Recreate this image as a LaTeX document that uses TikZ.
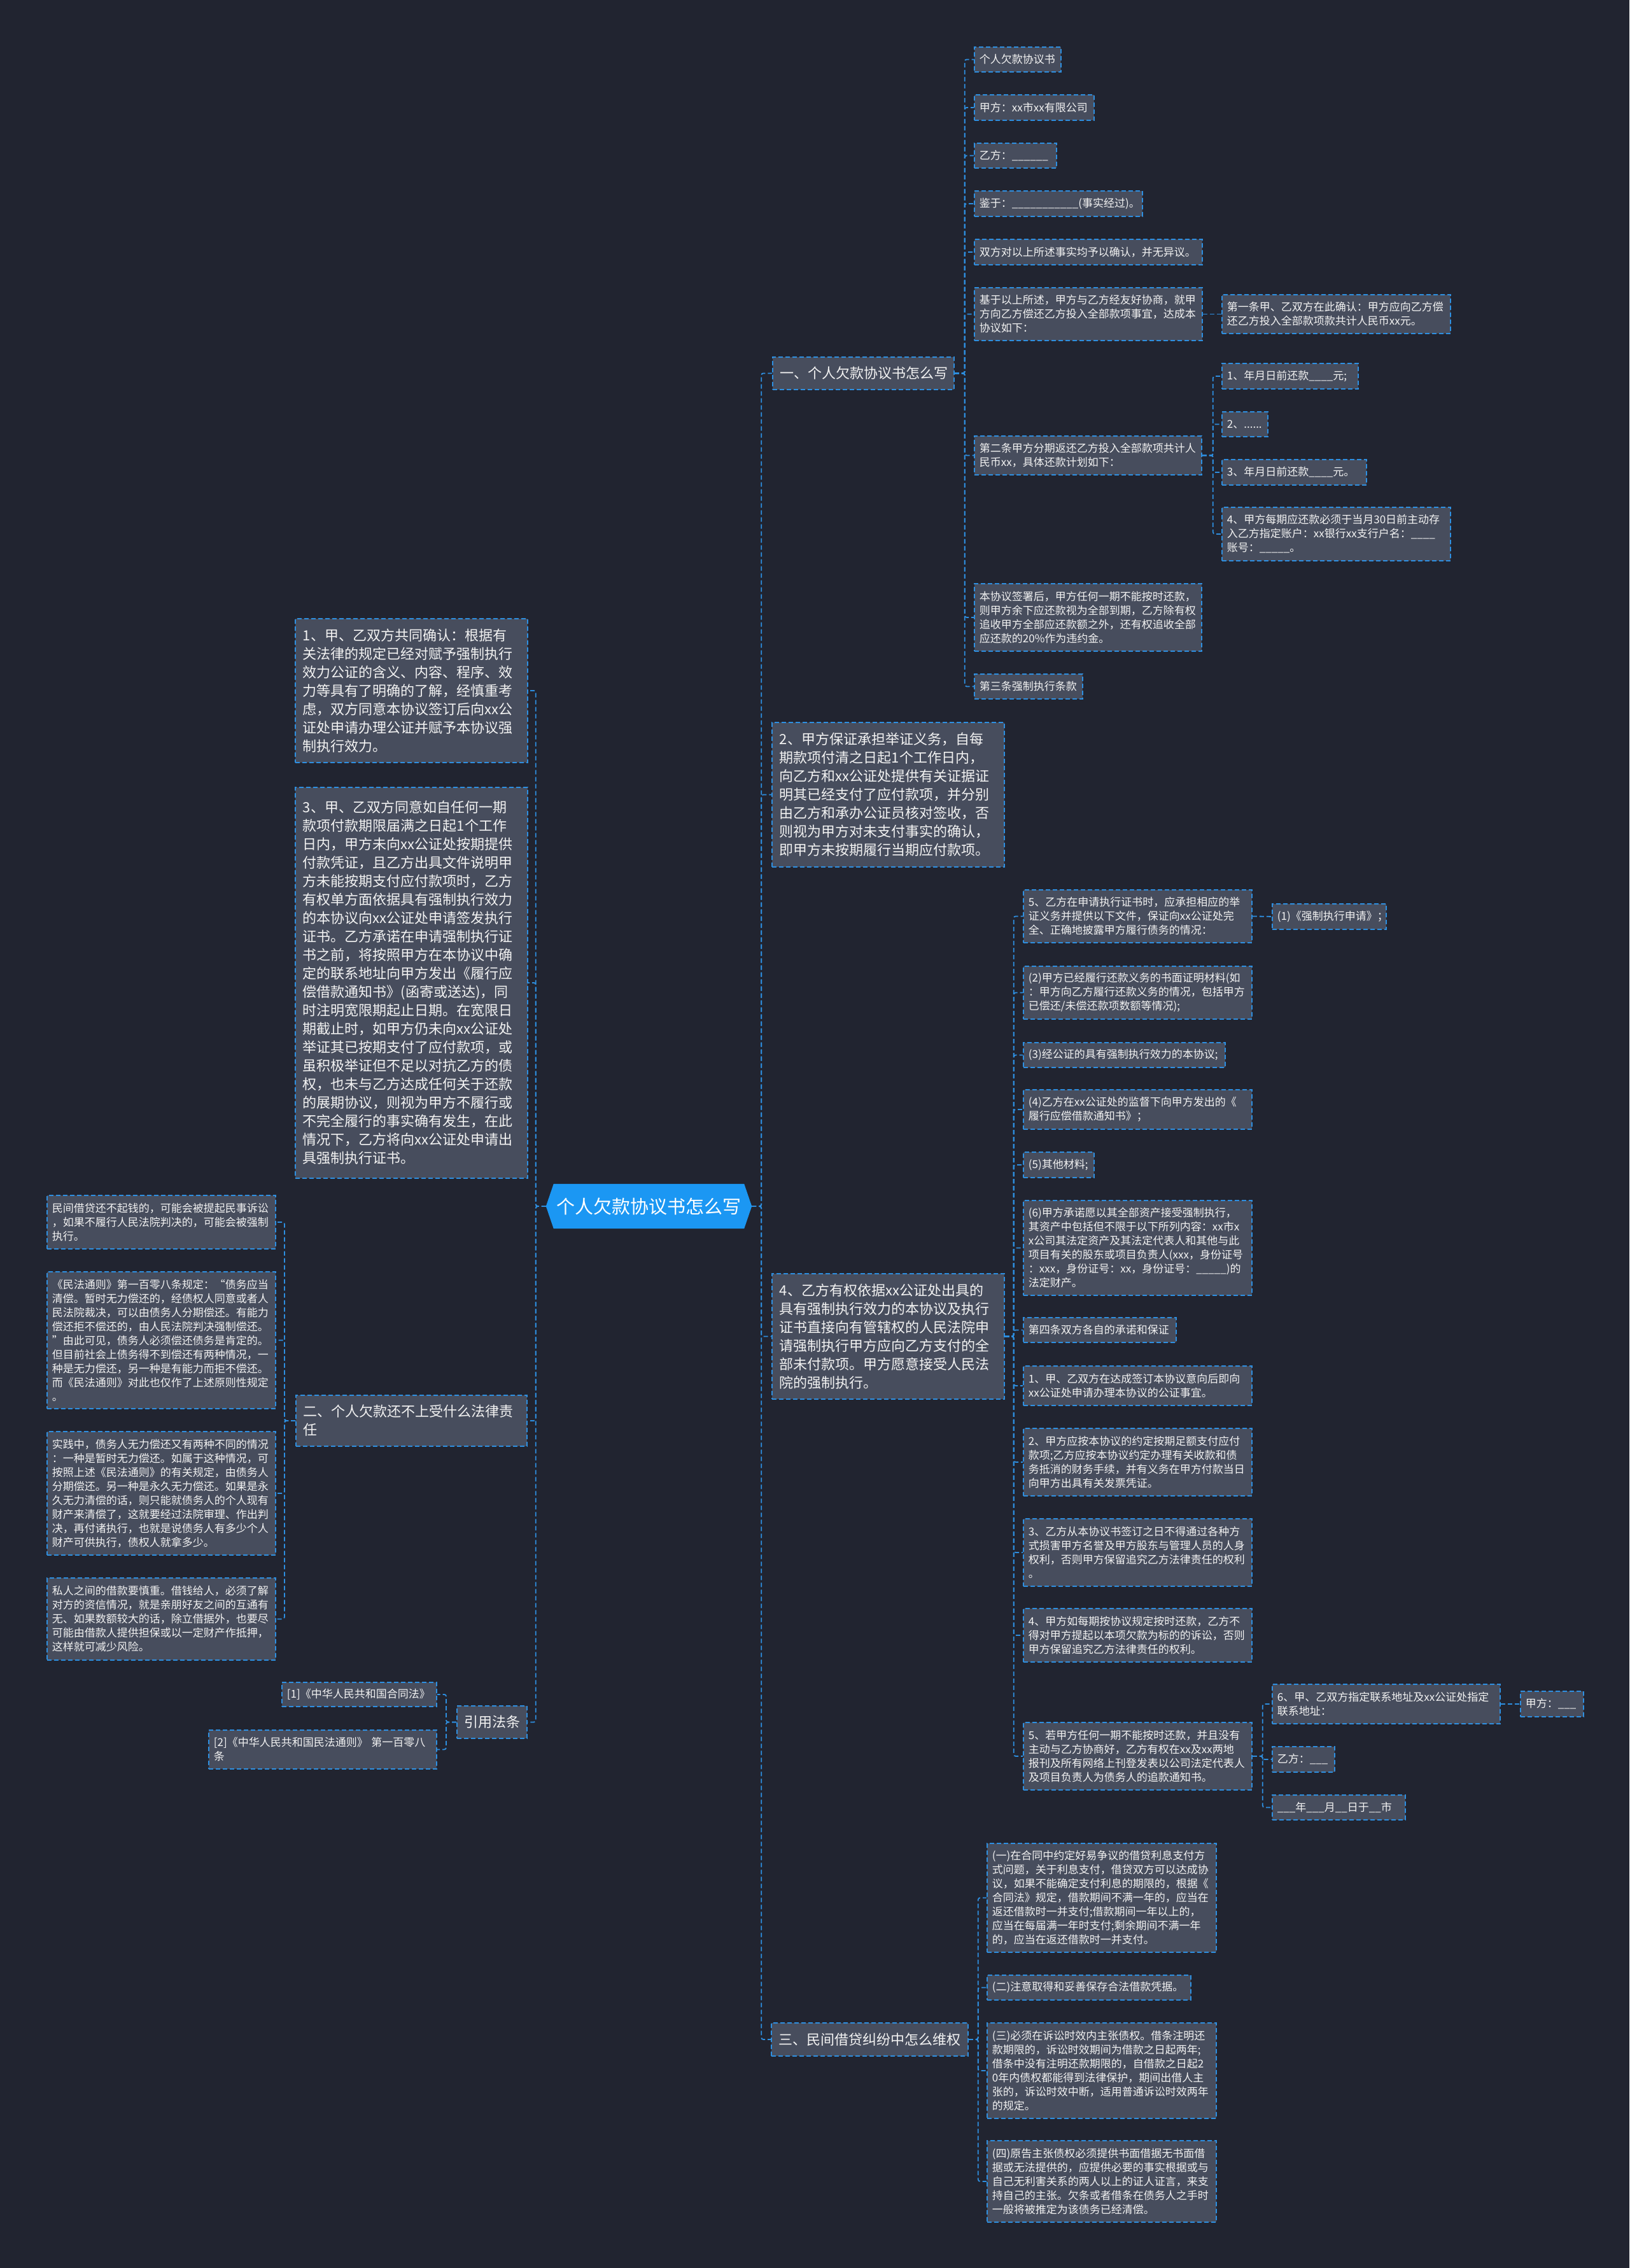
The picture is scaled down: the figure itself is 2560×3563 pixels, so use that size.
\documentclass[tikz,border=0pt]{standalone}
\usepackage{fontspec}
\newfontfamily\cjk{Noto Sans CJK SC}
\usetikzlibrary{calc,backgrounds}
\definecolor{bgc}{HTML}{212430}
\definecolor{boxc}{HTML}{474D5D}
\definecolor{linec}{HTML}{2E8FE0}
\definecolor{rootc}{HTML}{1B97F3}
\definecolor{txtc}{HTML}{F2F2F2}
\tikzset{
  box/.style={rectangle, draw=linec, fill=boxc, line width=1.8pt, dash pattern=on 7pt off 4pt, text=txtc, inner ysep=3pt, align=left},
  small/.style={box, font=\cjk\fontsize{17pt}{22pt}\selectfont},
  big/.style={box, font=\cjk\fontsize{22pt}{29pt}\selectfont},
  conn/.style={draw=linec, line width=1.8pt, dash pattern=on 7pt off 4pt, rounded corners=3pt},
  rootn/.style={font=\cjk\fontsize{29pt}{34pt}\selectfont, text=white, minimum width=323pt, minimum height=70pt, inner sep=0pt}
}
% #1 style, #2 half pad, #3 name, #4 x1, #5 y1, #6 x2, #7 y2, #8 text
\newcommand\mknode[8]{%
  \pgfmathsetmacro\mkw{#6-#4-2*#2}%
  \pgfmathsetmacro\mkh{#7-#5}%
  \node[#1, inner xsep=#2pt, anchor=north west, text width=\mkw pt, minimum height=\mkh pt] (#3) at (#4,#5) {#8};}
\newcommand\smnode[6]{\mknode{small}{8}{#1}{#2}{#3}{#4}{#5}{#6}}
\newcommand\bgnode[6]{\mknode{big}{12}{#1}{#2}{#3}{#4}{#5}{#6}}
\begin{document}
\begin{tikzpicture}[x=1pt,y=-1pt]
\useasboundingbox (0,0) rectangle (2560,3563);
% root
\node[rootn] (root) at (1019.5,1895) {个人欠款协议书怎么写};
% ---------- right side ----------
\bgnode{n1}{1213}{560}{1498}{611}{一、个人欠款协议书怎么写}
\smnode{a1}{1530}{73}{1666}{112}{个人欠款协议书}
\smnode{a2}{1530}{148}{1718}{188}{甲方：xx市xx有限公司}
\smnode{a3}{1530}{224}{1659}{263}{乙方：\_\_\_\_\_\_}
\smnode{a4}{1530}{299}{1794}{339}{鉴于：\_\_\_\_\_\_\_\_\_\_\_(事实经过)。}
\smnode{a5}{1530}{375}{1888}{415}{双方对以上所述事实均予以确认，并无异议。}
\smnode{a6}{1530}{451}{1888}{534}{基于以上所述，甲方与乙方经友好协商，就甲\\方向乙方偿还乙方投入全部款项事宜，达成本\\协议如下：}
\smnode{a6a}{1919}{462}{2278}{523}{第一条甲、乙双方在此确认：甲方应向乙方偿\\还乙方投入全部款项款共计人民币xx元。}
\smnode{a7}{1530}{684}{1887}{745}{第二条甲方分期返还乙方投入全部款项共计人\\民币xx，具体还款计划如下：}
\smnode{b1}{1919}{570}{2133}{610}{1、年月日前还款\_\_\_\_元;}
\smnode{b2}{1919}{646}{1991}{685}{2、......}
\smnode{b3}{1919}{721}{2146}{761}{3、年月日前还款\_\_\_\_元。}
\smnode{b4}{1919}{796}{2278}{880}{4、甲方每期应还款必须于当月30日前主动存\\入乙方指定账户：xx银行xx支行户名：\_\_\_\_\\账号：\_\_\_\_\_。}
\smnode{a8}{1530}{916}{1887}{1022}{本协议签署后，甲方任何一期不能按时还款，\\则甲方余下应还款视为全部到期，乙方除有权\\追收甲方全部应还款额之外，还有权追收全部\\应还款的20\%作为违约金。}
\smnode{a9}{1530}{1058}{1700}{1097}{第三条强制执行条款}
\bgnode{n2}{1212}{1134}{1577}{1361}{2、甲方保证承担举证义务，自每\\期款项付清之日起1个工作日内，\\向乙方和xx公证处提供有关证据证\\明其已经支付了应付款项，并分别\\由乙方和承办公证员核对签收，否\\则视为甲方对未支付事实的确认，\\即甲方未按期履行当期应付款项。}
\bgnode{n4}{1212}{2000}{1577}{2197}{4、乙方有权依据xx公证处出具的\\具有强制执行效力的本协议及执行\\证书直接向有管辖权的人民法院申\\请强制执行甲方应向乙方支付的全\\部未付款项。甲方愿意接受人民法\\院的强制执行。}
\smnode{c1}{1607}{1397}{1966}{1480}{5、乙方在申请执行证书时，应承担相应的举\\证义务并提供以下文件，保证向xx公证处完\\全、正确地披露甲方履行债务的情况：}
\smnode{c1a}{1998}{1419}{2177}{1459}{(1)《强制执行申请》；}
\smnode{c2}{1607}{1517}{1966}{1600}{(2)甲方已经履行还款义务的书面证明材料(如\\：甲方向乙方履行还款义务的情况，包括甲方\\已偿还/未偿还款项数额等情况);}
\smnode{c3}{1607}{1637}{1924}{1676}{(3)经公证的具有强制执行效力的本协议;}
\smnode{c4}{1607}{1711}{1966}{1773}{(4)乙方在xx公证处的监督下向甲方发出的《\\履行应偿借款通知书》；}
\smnode{c5}{1607}{1809}{1718}{1849}{(5)其他材料;}
\smnode{c6}{1607}{1885}{1966}{2034}{(6)甲方承诺愿以其全部资产接受强制执行，\\其资产中包括但不限于以下所列内容：xx市x\\x公司其法定资产及其法定代表人和其他与此\\项目有关的股东或项目负责人(xxx，身份证号\\：xxx，身份证号：xx，身份证号：\_\_\_\_\_)的\\法定财产。}
\smnode{c7}{1607}{2069}{1847}{2108}{第四条双方各自的承诺和保证}
\smnode{c8}{1607}{2145}{1966}{2207}{1、甲、乙双方在达成签订本协议意向后即向\\xx公证处申请办理本协议的公证事宜。}
\smnode{c9}{1607}{2243}{1966}{2349}{2、甲方应按本协议的约定按期足额支付应付\\款项;乙方应按本协议约定办理有关收款和债\\务抵消的财务手续，并有义务在甲方付款当日\\向甲方出具有关发票凭证。}
\smnode{c10}{1607}{2385}{1966}{2491}{3、乙方从本协议书签订之日不得通过各种方\\式损害甲方名誉及甲方股东与管理人员的人身\\权利，否则甲方保留追究乙方法律责任的权利\\。}
\smnode{c11}{1607}{2526}{1966}{2610}{4、甲方如每期按协议规定按时还款，乙方不\\得对甲方提起以本项欠款为标的的诉讼，否则\\甲方保留追究乙方法律责任的权利。}
\smnode{c12}{1607}{2705}{1966}{2811}{5、若甲方任何一期不能按时还款，并且没有\\主动与乙方协商好，乙方有权在xx及xx两地\\报刊及所有网络上刊登发表以公司法定代表人\\及项目负责人为债务人的追款通知书。}
\smnode{d1}{1998}{2645}{2356}{2707}{6、甲、乙双方指定联系地址及xx公证处指定\\联系地址：}
\smnode{d1a}{2388}{2656}{2487}{2696}{甲方：\_\_\_}
\smnode{d2}{1998}{2743}{2096}{2783}{乙方：\_\_\_}
\smnode{d3}{1998}{2819}{2207}{2858}{\_\_\_年\_\_\_月\_\_日于\_\_市}
\bgnode{n3}{1211}{3177}{1520}{3229}{三、民间借贷纠纷中怎么维权}
\smnode{e1}{1550}{2895}{1910}{3066}{(一)在合同中约定好易争议的借贷利息支付方\\式问题，关于利息支付，借贷双方可以达成协\\议，如果不能确定支付利息的期限的，根据《\\合同法》规定，借款期间不满一年的，应当在\\返还借款时一并支付;借款期间一年以上的，\\应当在每届满一年时支付;剩余期间不满一年\\的，应当在返还借款时一并支付。}
\smnode{e2}{1550}{3102}{1870}{3141}{(二)注意取得和妥善保存合法借款凭据。}
\smnode{e3}{1550}{3177}{1910}{3327}{(三)必须在诉讼时效内主张债权。借条注明还\\款期限的，诉讼时效期间为借款之日起两年;\\借条中没有注明还款期限的，自借款之日起2\\0年内债权都能得到法律保护，期间出借人主\\张的，诉讼时效中断，适用普通诉讼时效两年\\的规定。}
\smnode{e4}{1550}{3362}{1910}{3490}{(四)原告主张债权必须提供书面借据无书面借\\据或无法提供的，应提供必要的事实根据或与\\自己无利害关系的两人以上的证人证言，来支\\持自己的主张。欠条或者借条在债务人之手时\\一般将被推定为该债务已经清偿。}
% ---------- left side ----------
\bgnode{l1}{463}{971}{828}{1197}{1、甲、乙双方共同确认：根据有\\关法律的规定已经对赋予强制执行\\效力公证的含义、内容、程序、效\\力等具有了明确的了解，经慎重考\\虑，双方同意本协议签订后向xx公\\证处申请办理公证并赋予本协议强\\制执行效力。}
\bgnode{l3}{463}{1236}{828}{1850}{3、甲、乙双方同意如自任何一期\\款项付款期限届满之日起1个工作\\日内，甲方未向xx公证处按期提供\\付款凭证，且乙方出具文件说明甲\\方未能按期支付应付款项时，乙方\\有权单方面依据具有强制执行效力\\的本协议向xx公证处申请签发执行\\证书。乙方承诺在申请强制执行证\\书之前，将按照甲方在本协议中确\\定的联系地址向甲方发出《履行应\\偿借款通知书》(函寄或送达)，同\\时注明宽限期起止日期。在宽限日\\期截止时，如甲方仍未向xx公证处\\举证其已按期支付了应付款项，或\\虽积极举证但不足以对抗乙方的债\\权，也未与乙方达成任何关于还款\\的展期协议，则视为甲方不履行或\\不完全履行的事实确有发生，在此\\情况下，乙方将向xx公证处申请出\\具强制执行证书。}
\bgnode{l2}{464}{2191}{827}{2271}{二、个人欠款还不上受什么法律责\\任}
\smnode{f1}{73}{1877}{432}{1961}{民间借贷还不起钱的，可能会被提起民事诉讼\\，如果不履行人民法院判决的，可能会被强制\\执行。}
\smnode{f2}{73}{1997}{432}{2212}{《民法通则》第一百零八条规定：“债务应当\\清偿。暂时无力偿还的，经债权人同意或者人\\民法院裁决，可以由债务人分期偿还。有能力\\偿还拒不偿还的，由人民法院判决强制偿还。\\”由此可见，债务人必须偿还债务是肯定的。\\但目前社会上债务得不到偿还有两种情况，一\\种是无力偿还，另一种是有能力而拒不偿还。\\而《民法通则》对此也仅作了上述原则性规定\\。}
\smnode{f3}{73}{2248}{432}{2442}{实践中，债务人无力偿还又有两种不同的情况\\：一种是暂时无力偿还。如属于这种情况，可\\按照上述《民法通则》的有关规定，由债务人\\分期偿还。另一种是永久无力偿还。如果是永\\久无力清偿的话，则只能就债务人的个人现有\\财产来清偿了，这就要经过法院审理、作出判\\决，再付诸执行，也就是说债务人有多少个人\\财产可供执行，债权人就拿多少。}
\smnode{f4}{73}{2478}{432}{2607}{私人之间的借款要慎重。借钱给人，必须了解\\对方的资信情况，就是亲朋好友之间的互通有\\无、如果数额较大的话，除立借据外，也要尽\\可能由借款人提供担保或以一定财产作抵押，\\这样就可减少风险。}
\bgnode{l4}{717}{2679}{827}{2730}{引用法条}
\smnode{g1}{442}{2642}{685}{2680}{[1]《中华人民共和国合同法》}
\smnode{g2}{327}{2717}{685}{2778}{[2]《中华人民共和国民法通则》 第一百零八\\条}
% ---------- connectors ----------
\foreach \c in {n1,n2,n4,n3} \draw[conn] (root.east) -- ++(15,0) |- (\c.west);
\foreach \c in {l1,l3,l2,l4} \draw[conn] (root.west) -- ++(-16,0) |- (\c.east);
\foreach \c in {a1,a2,a3,a4,a5,a6,a7,a8,a9} \draw[conn] (n1.east) -- ++(16,0) |- (\c.west);
\draw[conn] (a6.east) -- (a6a.west);
\foreach \c in {b1,b2,b3,b4} \draw[conn] (a7.east) -- ++(17,0) |- (\c.west);
\foreach \c in {c1,c2,c3,c4,c5,c6,c7,c8,c9,c10,c11,c12} \draw[conn] (n4.east) -- ++(14,0) |- (\c.west);
\draw[conn] (c1.east) -- (c1a.west);
\foreach \c in {d1,d2,d3} \draw[conn] (c12.east) -- ++(16,0) |- (\c.west);
\draw[conn] (d1.east) -- (d1a.west);
\foreach \c in {e1,e2,e3,e4} \draw[conn] (n3.east) -- ++(15,0) |- (\c.west);
\foreach \c in {f1,f2,f3,f4} \draw[conn] (l2.west) -- ++(-17,0) |- (\c.east);
\foreach \c in {g1,g2} \draw[conn] (l4.west) -- ++(-16,0) |- (\c.east);
% ---------- background and root shape ----------
\begin{pgfonlayer}{background}
\fill[bgc] (0,0) rectangle (2560,3563);
\fill[rootc] ($(root.north west)+(12,0)$) -- ($(root.north east)+(-12,0)$) -- (root.east) -- ($(root.south east)+(-12,0)$) -- ($(root.south west)+(12,0)$) -- (root.west) -- cycle;
\end{pgfonlayer}
\end{tikzpicture}
\end{document}
